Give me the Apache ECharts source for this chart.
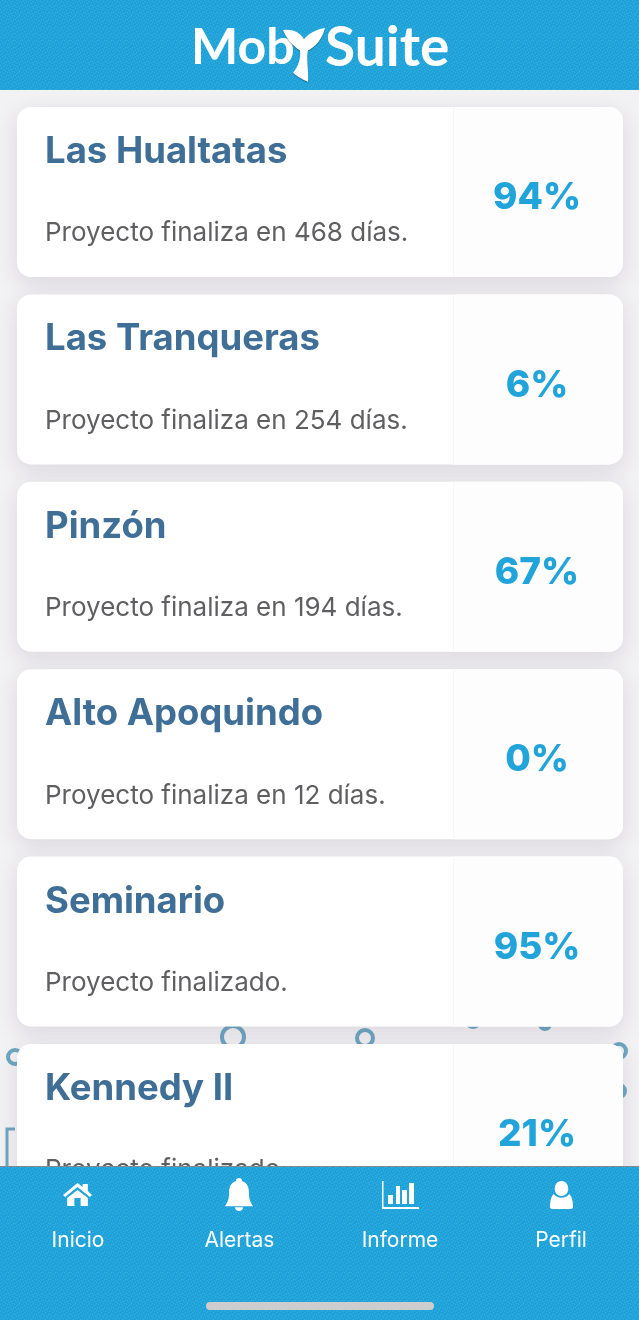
<!DOCTYPE html>
<html><head><meta charset="utf-8">
<style>html,body{margin:0;padding:0;background:#f2f1f3}#c{width:639px;height:1320px}</style>
<script src="https://cdn.jsdelivr.net/npm/echarts@6/dist/echarts.min.js"></script>
</head><body><div id="c"></div>
<script>
const projects = ['Las Hualtatas','Las Tranqueras','Pinzón','Alto Apoquindo','Seminario','Kennedy II'];
const progress = [94,6,67,0,95,21];
const daysLeft = [468,254,194,12,null,null];
const navLabels = ['Inicio','Alertas','Informe','Perfil'];

const BLUE='#21a4da', TITLE='#3f6e96', SUB='#5f5f62', RING='#6ea6c1';
const FONT='Inter, "Noto Sans", sans-serif';
const chart = echarts.init(document.getElementById('c'),null,{renderer:'canvas',width:639,height:1320});

function subtitle(d){return d===null?'Proyecto finalizado.':'Proyecto finaliza en '+d+' días.';}
function renderCard(params,api){
  const idx=api.value(0), cy=api.coord([0,idx])[1];
  const top=cy-85;
  return {type:'group',children:[
    {type:'rect',shape:{x:17,y:top,width:606,height:170,r:14},
     style:{fill:'#fff',shadowBlur:22,shadowColor:'rgba(60,50,80,0.13)',shadowOffsetY:6}},
    {type:'rect',shape:{x:454,y:top,width:169,height:170,r:[0,14,14,0]},style:{fill:'#fefdfe'}},
    {type:'rect',shape:{x:453,y:top,width:1,height:170},style:{fill:'#f7f6f8'}},
    {type:'text',style:{x:45,y:top+45,text:projects[idx],fill:TITLE,font:'700 36.5px '+FONT,verticalAlign:'middle'}},
    {type:'text',style:{x:45,y:top+126.5,text:subtitle(daysLeft[idx]),fill:SUB,font:'400 26px '+FONT,verticalAlign:'middle'}},
    {type:'text',style:{x:537,y:top+91,text:api.value(1)+'%',fill:BLUE,font:'800 37px '+FONT,align:'center',verticalAlign:'middle'}}
  ]};
}
function ring(cx,cy,r){return {type:'circle',shape:{cx,cy,r},style:{fill:'none',stroke:RING,lineWidth:4}};}
function icon(d,x,y,w,h,shadow){return {type:'path',shape:{pathData:d,layout:'cover',x,y,width:w,height:h},style:Object.assign({fill:'#fff'},shadow||{})};}

const homeD='M15 0 L20 4 L20 1 L25 1 L25 8 L29 12 L27 14 L15 4 L3 14 L1 12 Z M15 7 L25 15 L25 23 L18 23 L18 15 L12 15 L12 23 L5 23 L5 15 Z';
const bellD='M14 0 C16 0 17 1 17 3 C23 5 24 10 24 16 C24 22 26 25 28 28 L0 28 C2 25 4 22 4 16 C4 10 5 5 11 3 C11 1 12 0 14 0 Z M10 29 L18 29 C18 34 10 34 10 29 Z';
const chartD='M0 0 L1.5 0 L1.5 26 L37 26 L37 28 L0 28 Z M6 14 L11 14 L11 23 L6 23 Z M14 5 L18 5 L18 23 L14 23 Z M20 9 L25 9 L25 23 L20 23 Z M27 2 L32 2 L32 23 L27 23 Z';
const personD='M12 0 C17 0 19 4 19 8 C19 12 16 15 12 15 C8 15 5 12 5 8 C5 4 7 0 12 0 Z M4 13 C7 18 17 18 20 13 C23 15 24 21 24 26 C24 28 22 28 20 28 L4 28 C2 28 0 28 0 26 C0 21 1 15 4 13 Z';
const tailD='M283 30 C292 29 300 32 304 39 C309 33 317 29 325 28 C323 38 315 47 308 50 C306 58 309 72 308 81 C304 79 297 76 293 72 C298 66 301 58 300 50 C293 46 286 38 283 30 Z';

const logoShadow={shadowBlur:1,shadowOffsetY:1,shadowColor:'rgba(0,0,0,0.35)'};
const logoStyle=Object.assign({fill:'#fff',verticalAlign:'middle'},logoShadow);
const navCenters=[78,239.5,400,561];

function dither(){
  const c=document.createElement('canvas');c.width=c.height=7;
  const g=c.getContext('2d');g.fillStyle=BLUE;g.fillRect(0,0,7,7);
  g.fillStyle='#1b9dd4';[[0,0],[3,1],[6,2],[1,3],[4,5],[2,6],[5,4]].forEach(p=>g.fillRect(p[0],p[1],1,1));
  g.fillStyle='#35aee0';[[2,0],[5,1],[0,2],[3,3],[6,5],[1,5],[4,6]].forEach(p=>g.fillRect(p[0],p[1],1,1));
  return {image:c,repeat:'repeat'};
}
const barFill=dither();

function renderBack(){
  return {type:'group',children:[
    ring(233,1037,11),ring(365,1038,8),ring(15,1057,7),ring(473,1020,7),ring(545,1024,5),ring(619,1051,7),ring(619,1091,6),
    {type:'polyline',shape:{points:[[15,1129],[7,1129],[7,1170]]},style:{fill:'none',stroke:RING,lineWidth:3}}
  ]};
}
function renderChrome(){
  return {type:'group',children:[
    {type:'rect',shape:{x:0,y:0,width:639,height:90},style:{fill:barFill}},
    {type:'text',style:Object.assign({x:191,y:48,text:'Mob',font:'700 50px Lato, sans-serif'},logoStyle)},
    {type:'text',style:Object.assign({x:325,y:48,text:'Suite',font:'700 55px Lato, sans-serif'},logoStyle)},
    icon(tailD,283,28,42,54,logoShadow),
    {type:'rect',shape:{x:0,y:1166,width:639,height:154},style:{fill:barFill}},
    {type:'rect',shape:{x:0,y:1166,width:639,height:1},style:{fill:'#7d8a92'}},
    icon(homeD,63,1183,29,23),icon(bellD,225,1178,28,33),icon(chartD,382,1181,37,28),icon(personD,550,1181,23,28),
    ...navLabels.map((t,i)=>({type:'text',style:{x:navCenters[i],y:1240.5,text:t,fill:'#fff',font:'400 21px '+FONT,align:'center',verticalAlign:'middle'}})),
    {type:'rect',shape:{x:206,y:1302,width:228,height:8,r:4},style:{fill:'#cdcdcf'}}
  ]};
}

chart.setOption({
  animation:false,
  backgroundColor:'#f2f1f3',
  grid:{left:0,right:0,top:98.3,height:1124.4},
  xAxis:{type:'value',min:0,max:100,show:false},
  yAxis:{type:'category',inverse:true,data:projects,show:false},
  series:[
    {type:'custom',clip:false,z:1,renderItem:renderBack,data:[[0,0]]},
    {type:'custom',clip:false,z:5,renderItem:renderCard,encode:{x:1,y:0},data:projects.map((p,i)=>[i,progress[i]])},
    {type:'custom',clip:false,z:9,renderItem:renderChrome,data:[[0,0]]}
  ]
});
</script></body></html>
